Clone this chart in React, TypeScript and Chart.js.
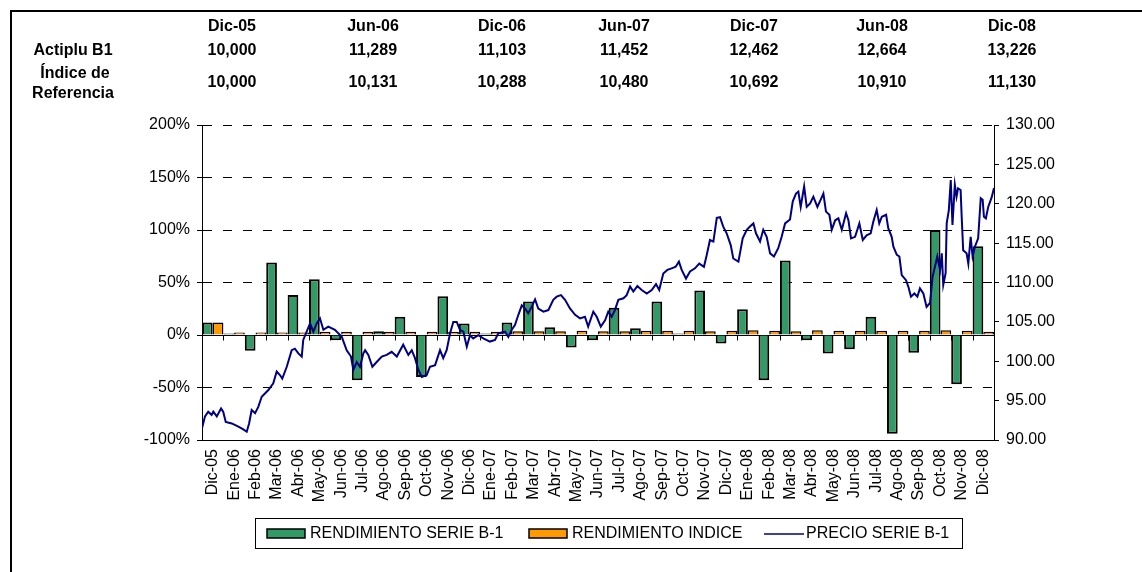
import React, { useEffect, useRef } from 'react';
import { Chart, registerables } from 'chart.js';

Chart.register(...registerables);

const CATEGORIES = [
  'Dic-05', 'Ene-06', 'Feb-06', 'Mar-06', 'Abr-06', 'May-06', 'Jun-06', 'Jul-06', 'Ago-06', 'Sep-06', 'Oct-06', 'Nov-06',
  'Dic-06', 'Ene-07', 'Feb-07', 'Mar-07', 'Abr-07', 'May-07', 'Jun-07', 'Jul-07', 'Ago-07', 'Sep-07', 'Oct-07', 'Nov-07',
  'Dic-07', 'Ene-08', 'Feb-08', 'Mar-08', 'Abr-08', 'May-08', 'Jun-08', 'Jul-08', 'Ago-08', 'Sep-08', 'Oct-08', 'Nov-08',
  'Dic-08',
];

// RENDIMIENTO SERIE B-1 (%)
const SERIE_B1 = [
  12, 1.5, -15, 69, 38, 53, -5, -43, 3.5, 17.5, -40, 37,
  11, 1.5, 12, 32, 7.5, -12, -5, 26, 6.5, 32, 1.5, 42.5,
  -8, 24.5, -43, 71, -5, -17.5, -13.5, 17.5, -94, -17, 100, -47,
  84.5,
];

// RENDIMIENTO INDICE (%)
const INDICE = [
  12, 2.5, 2.5, 2.5, 2.5, 3, 3, 3, 3, 3, 3, 3,
  3, 3, 3.5, 3.5, 3.5, 4, 3.5, 3.5, 4, 4, 4, 3.5,
  4, 4.5, 4, 3.5, 4.5, 4, 4, 4, 4, 4, 4.5, 4,
  3,
];

// PRECIO SERIE B-1: time in months since start of Dic-05, and price
const PRICE_MONTHS = [
  0.00, 0.14, 0.29, 0.45, 0.53, 0.69, 0.89, 0.99, 1.11, 1.39, 1.70, 1.93, 2.09, 2.20, 2.32, 2.48, 2.63, 2.79, 2.94, 3.10,
  3.33, 3.49, 3.64, 3.75, 3.96, 4.19, 4.34, 4.50, 4.66, 4.73, 4.89, 5.05, 5.20, 5.36, 5.51, 5.67, 5.90, 6.21, 6.53, 6.76,
  6.96, 7.07, 7.23, 7.38, 7.54, 7.62, 7.77, 7.96, 8.16, 8.40, 8.63, 8.86, 9.10, 9.40, 9.64, 9.80, 9.95, 10.11, 10.27, 10.50,
  10.65, 10.89, 11.12, 11.27, 11.43, 11.59, 11.74, 11.90, 12.05, 12.21, 12.37, 12.52, 12.67, 12.91, 13.14, 13.45, 13.69, 13.84, 14.16, 14.31,
  14.47, 14.62, 14.78, 14.94, 15.09, 15.24, 15.40, 15.56, 15.71, 15.95, 16.18, 16.41, 16.57, 16.77, 16.96, 17.19, 17.43, 17.66, 17.89, 18.04,
  18.28, 18.44, 18.63, 18.83, 18.98, 19.14, 19.29, 19.45, 19.69, 19.84, 20.00, 20.15, 20.34, 20.54, 20.78, 21.01, 21.21, 21.36, 21.55, 21.74,
  21.94, 22.13, 22.28, 22.41, 22.61, 22.80, 23.03, 23.23, 23.45, 23.58, 23.73, 23.89, 24.05, 24.20, 24.35, 24.51, 24.70, 24.82, 25.06, 25.26,
  25.45, 25.60, 25.76, 25.88, 26.07, 26.22, 26.38, 26.54, 26.72, 26.92, 27.08, 27.24, 27.47, 27.60, 27.75, 27.86, 27.97, 28.13, 28.25, 28.41,
  28.56, 28.75, 28.90, 29.03, 29.15, 29.31, 29.42, 29.58, 29.73, 29.89, 30.09, 30.20, 30.32, 30.51, 30.71, 30.87, 31.05, 31.24, 31.36, 31.52,
  31.64, 31.76, 31.96, 32.06, 32.22, 32.30, 32.46, 32.58, 32.69, 32.89, 33.00, 33.12, 33.28, 33.42, 33.54, 33.70, 33.85, 34.01, 34.13, 34.24,
  34.35, 34.48, 34.56, 34.63, 34.74, 34.79, 34.89, 34.98, 35.06, 35.17, 35.25, 35.32, 35.44, 35.49, 35.56, 35.72, 35.80, 35.91, 36.00, 36.11,
  36.26, 36.38, 36.47, 36.53, 36.62, 36.73, 36.89, 37.00,
];
const PRICE_VALUES = [
  91.5, 93.0, 93.6, 93.2, 93.6, 93.0, 94.0, 93.6, 92.3, 92.1, 91.7, 91.35, 91.05, 92.1, 93.8, 93.4, 94.2, 95.5, 95.9, 96.35,
  97.2, 98.7, 98.25, 97.8, 99.3, 101.4, 101.6, 101.0, 100.6, 102.7, 103.75, 104.8, 103.75, 104.8, 105.45, 104.0, 104.4, 104.0, 103.1, 101.4,
  100.6, 98.9, 99.9, 99.3, 101.0, 101.4, 100.8, 99.3, 99.9, 100.6, 100.8, 101.2, 100.6, 102.1, 100.8, 101.4, 100.4, 98.9, 98.0, 98.25,
  99.3, 99.5, 101.4, 100.4, 101.4, 103.55, 105.0, 105.0, 104.0, 103.75, 101.85, 103.3, 102.9, 103.3, 102.9, 102.5, 102.7, 103.55, 103.75, 103.1,
  104.0, 104.6, 105.9, 107.1, 106.7, 106.1, 106.9, 107.85, 106.7, 106.3, 106.5, 107.8, 108.2, 108.4, 107.8, 106.7, 105.9, 105.45, 105.65, 104.4,
  106.3, 105.65, 104.4, 105.2, 106.3, 105.65, 106.5, 107.8, 108.0, 108.4, 109.5, 108.85, 109.55, 109.05, 108.6, 109.05, 109.8, 109.05, 111.15, 111.6,
  111.8, 112.0, 112.65, 111.6, 110.5, 111.4, 111.8, 112.4, 112.0, 113.5, 115.4, 115.2, 118.2, 118.3, 117.1, 116.25, 114.75, 113.05, 112.65, 115.6,
  116.7, 117.1, 117.5, 116.25, 115.2, 116.7, 115.8, 113.7, 113.3, 114.35, 115.8, 117.5, 118.0, 120.3, 121.3, 121.55, 119.6, 122.2, 119.6, 120.05,
  120.9, 119.6, 120.5, 121.3, 119.0, 118.6, 116.7, 117.9, 118.15, 116.7, 118.8, 117.9, 115.6, 115.8, 117.5, 115.4, 116.0, 116.25, 117.7, 119.2,
  117.5, 118.35, 118.6, 116.9, 115.8, 114.55, 113.5, 113.3, 110.95, 110.3, 109.45, 108.2, 108.6, 108.2, 109.25, 108.6, 106.9, 107.4, 110.7, 112.0,
  113.3, 111.6, 113.7, 109.7, 111.2, 117.5, 119.2, 123.0, 117.3, 122.4, 120.9, 121.95, 121.75, 118.4, 114.1, 113.7, 112.4, 115.8, 113.3, 114.55,
  115.6, 120.7, 120.5, 118.35, 118.15, 119.6, 120.8, 122.0,
];

const HEADER_DATES = ['Dic-05', 'Jun-06', 'Dic-06', 'Jun-07', 'Dic-07', 'Jun-08', 'Dic-08'];
const ACTIPLU_VALUES = ['10,000', '11,289', '11,103', '11,452', '12,462', '12,664', '13,226'];
const REFERENCE_VALUES = ['10,000', '10,131', '10,288', '10,480', '10,692', '10,910', '11,130'];

const LEGEND_LABELS = ['RENDIMIENTO SERIE B-1', 'RENDIMIENTO INDICE', 'PRECIO SERIE B-1'];

// layout constants
const W = 1142;
const H = 572;
const HEADER_X = [232, 373, 502, 624, 754, 882, 1012];
const FONT = '"Liberation Sans", Arial, Helvetica, sans-serif';
const GREEN = '#339966';
const ORANGE = '#FF9900';
const NAVY = '#000080';

const overlayPlugin = {
  id: 'overlay',
  beforeDatasetsDraw(chart: any) {
    const ctx = chart.ctx;
    const { left, right } = chart.chartArea;
    const y0 = Math.round(chart.scales.y.getPixelForValue(0)) + 0.5;
    ctx.save();
    ctx.strokeStyle = '#000';
    ctx.lineWidth = 1;
    ctx.beginPath();
    ctx.moveTo(left, y0);
    ctx.lineTo(right, y0);
    const n = CATEGORIES.length;
    const cw = (right - left) / n;
    for (let i = 1; i < n; i++) {
      const x = Math.round(left + i * cw) + 0.5;
      ctx.moveTo(x, y0);
      ctx.lineTo(x, y0 + 5);
    }
    ctx.stroke();
    ctx.restore();
  },
  afterDraw(chart: any) {
    const ctx = chart.ctx;
    ctx.save();
    // frame
    ctx.fillStyle = '#000';
    ctx.fillRect(10, 10, W - 10, 2);
    ctx.fillRect(10, 10, 2, H - 10);

    // header table
    ctx.fillStyle = '#000';
    ctx.font = `bold 16px ${FONT}`;
    ctx.textAlign = 'center';
    ctx.textBaseline = 'middle';
    HEADER_DATES.forEach((d, i) => ctx.fillText(d, HEADER_X[i], 27));
    ACTIPLU_VALUES.forEach((d, i) => ctx.fillText(d, HEADER_X[i], 51));
    REFERENCE_VALUES.forEach((d, i) => ctx.fillText(d, HEADER_X[i], 83));
    ctx.fillText('Actiplu B1', 73, 51);
    ctx.fillText('Índice de', 75, 74);
    ctx.fillText('Referencia', 73, 94);

    // legend
    ctx.strokeStyle = '#000';
    ctx.lineWidth = 1;
    ctx.strokeRect(255.5, 518.5, 707, 30);
    const cy = 534;
    ctx.font = `16px ${FONT}`;
    ctx.textAlign = 'left';
    ctx.textBaseline = 'middle';
    // green swatch
    ctx.lineWidth = 1.5;
    ctx.fillStyle = GREEN;
    ctx.fillRect(267, 529, 38, 9);
    ctx.strokeRect(267, 529, 38, 9);
    ctx.fillStyle = '#000';
    ctx.fillText(LEGEND_LABELS[0], 310, cy);
    // orange swatch
    ctx.fillStyle = ORANGE;
    ctx.fillRect(529, 529, 38, 9);
    ctx.strokeRect(529, 529, 38, 9);
    ctx.fillStyle = '#000';
    ctx.fillText(LEGEND_LABELS[1], 572, cy);
    // line swatch
    ctx.strokeStyle = NAVY;
    ctx.lineWidth = 1.5;
    ctx.beginPath();
    ctx.moveTo(764, cy);
    ctx.lineTo(804, cy);
    ctx.stroke();
    ctx.fillStyle = '#000';
    ctx.fillText(LEGEND_LABELS[2], 806, cy);
    ctx.restore();
  },
};

export default function App() {
  const ref = useRef<HTMLCanvasElement | null>(null);

  useEffect(() => {
    document.body.style.margin = '0';
    const canvas = ref.current;
    if (!canvas) return;
    const tickFont = { family: FONT, size: 16 };
    const chart = new Chart(canvas, {
      type: 'bar',
      data: {
        labels: CATEGORIES,
        datasets: [
          {
            type: 'line',
            label: LEGEND_LABELS[2],
            data: PRICE_MONTHS.map((t, i) => ({ x: t, y: PRICE_VALUES[i] })),
            xAxisID: 'x2',
            yAxisID: 'y2',
            borderColor: NAVY,
            borderWidth: 2,
            pointRadius: 0,
            tension: 0,
            fill: false,
            order: 0,
          } as any,
          {
            type: 'bar',
            label: LEGEND_LABELS[0],
            data: SERIE_B1,
            xAxisID: 'x',
            yAxisID: 'y',
            backgroundColor: GREEN,
            borderColor: '#000',
            borderWidth: 2,
            categoryPercentage: 2,
            barPercentage: 1,
            order: 1,
          },
          {
            type: 'bar',
            label: LEGEND_LABELS[1],
            data: INDICE,
            xAxisID: 'x',
            yAxisID: 'y',
            backgroundColor: ORANGE,
            borderColor: '#000',
            borderWidth: 1.5,
            categoryPercentage: 2,
            barPercentage: 1,
            order: 1,
          },
        ],
      },
      options: {
        responsive: false,
        animation: false,
        devicePixelRatio: 1,
        layout: { padding: { top: 125, left: 0, right: 0, bottom: 0 } },
        plugins: {
          legend: { display: false },
          tooltip: { enabled: false },
        },
        scales: {
          x: {
            type: 'category',
            position: 'bottom',
            offset: true,
            grid: { display: false, drawTicks: false },
            border: { display: true, color: '#000', width: 1 },
            ticks: {
              autoSkip: false,
              minRotation: 90,
              maxRotation: 90,
              padding: 9,
              color: '#000',
              font: tickFont,
            },
            afterFit: (s: any) => {
              s.height = 132;
            },
          },
          x2: {
            type: 'linear',
            display: false,
            min: 0,
            max: CATEGORIES.length,
            offset: false,
          },
          y: {
            position: 'left',
            min: -100,
            max: 200,
            ticks: {
              stepSize: 50,
              padding: 7,
              color: '#000',
              font: tickFont,
              callback: (v: any) => `${v}%`,
            },
            grid: {
              color: (c: any) => (c.tick && c.tick.value === 0 ? 'rgba(0,0,0,0)' : '#000'),
              tickColor: '#000',
              tickLength: 5,
              lineWidth: 1,
            },
            border: { display: true, color: '#000', width: 1, dash: [9, 11] },
            afterFit: (s: any) => {
              s.width = 202;
            },
          },
          y2: {
            position: 'right',
            min: 90,
            max: 130,
            ticks: {
              stepSize: 5,
              padding: 7,
              color: '#000',
              font: tickFont,
              callback: (v: any) => Number(v).toFixed(2),
            },
            grid: { drawOnChartArea: false, tickColor: '#000', tickLength: 5 },
            border: { display: true, color: '#000', width: 1 },
            afterFit: (s: any) => {
              s.width = W - 994;
            },
          },
        },
      } as any,
      plugins: [overlayPlugin],
    });
    return () => chart.destroy();
  }, []);

  return (
    <canvas
      ref={ref}
      width={W}
      height={H}
      style={{ display: 'block', width: W, height: H, background: '#fff' }}
    />
  );
}
